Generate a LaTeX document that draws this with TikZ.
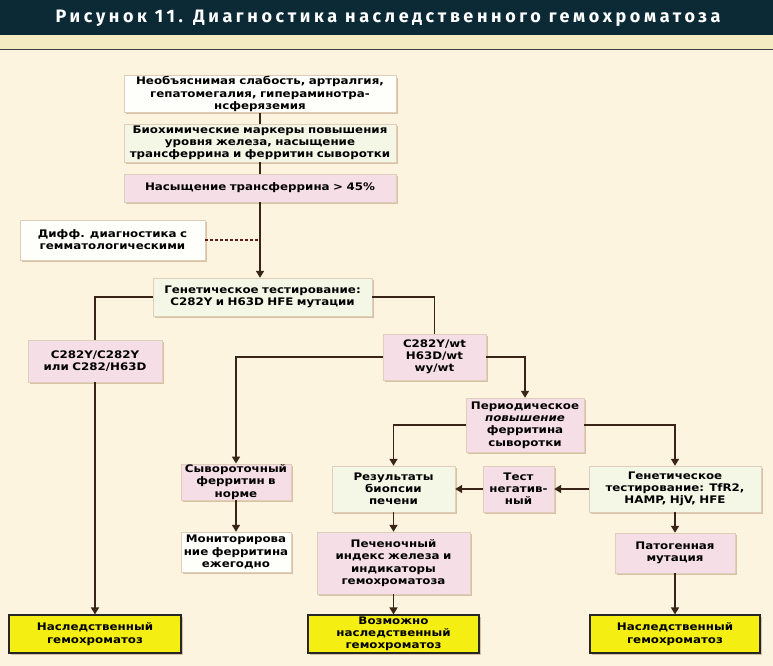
\documentclass[tikz,border=0pt]{standalone}
\usepackage{fontspec}
\setmainfont{DejaVu Sans}[FakeStretch=1.14]
\newfontfamily\titlefont{Fira Sans}[LetterSpace=20]
\usetikzlibrary{arrows.meta,shadows}
\definecolor{barbg}{HTML}{0B2A36}
\definecolor{stripbg}{HTML}{F5EBC2}
\definecolor{pagebg}{HTML}{FCF4DF}
\definecolor{linec}{HTML}{3A2418}
\definecolor{whitebox}{HTML}{FEFEFA}
\definecolor{greenbox}{HTML}{F4F7E6}
\definecolor{pinkbox}{HTML}{F5DEE5}
\definecolor{yellowbox}{HTML}{F4EE12}
\definecolor{shadowc}{HTML}{C9AE8A}
\tikzset{
  box/.style={rectangle, inner sep=1pt, align=center, font=\fontsize{10.4}{12.2}\selectfont\bfseries,
    drop shadow={shadow xshift=2pt, shadow yshift=-2pt, fill=shadowc, opacity=0.7}},
  wbox/.style={box, fill=whitebox, draw=shadowc!60, line width=0.4pt},
  gbox/.style={box, fill=greenbox, draw=shadowc!60, line width=0.4pt},
  pbox/.style={box, fill=pinkbox, draw=shadowc!60, line width=0.4pt},
  ybox/.style={box, fill=yellowbox, draw=black!85, line width=1.2pt},
  conn/.style={draw=linec, line width=1.6pt},
  arr/.style={conn, -{Triangle[width=8pt,length=7pt]}},
  dotconn/.style={draw=linec!80!red, line width=1.2pt, dash pattern=on 2.5pt off 2.5pt}
}
\begin{document}
\begin{tikzpicture}[x=1pt,y=-1pt]
\useasboundingbox (0,0) rectangle (773,666);
\fill[pagebg] (0,0) rectangle (773,666);
\fill[stripbg] (0,35) rectangle (773,49);
\fill[black!75] (0,49) rectangle (773,50.5);
\fill[barbg] (0,0) rectangle (773,35);
\node[text=white, font=\titlefont\bfseries\fontsize{18}{20}\selectfont] (title) at (388,18) {Рисунок 11. Диагностика наследственного гемохроматоза};

\node[wbox, minimum width=272, minimum height=36, text width=268] (n1) at (260,94) {Необъяснимая слабость, артралгия,\\ гепатомегалия, гипераминотра-\\ нсферяземия};
\node[gbox, minimum width=272, minimum height=38, text width=268] (n2) at (260,143) {Биохимические маркеры повышения\\ уровня железа, насыщение\\ трансферрина и ферритин сыворотки};
\node[pbox, minimum width=272, minimum height=28, text width=268] (n3) at (260,188) {Насыщение трансферрина > 45\%};
\node[wbox, minimum width=185, minimum height=40, text width=182] (n4) at (112.5,240) {Дифф. диагностика с\\ гемматологическими};
\node[gbox, minimum width=219, minimum height=38, text width=216] (n5) at (262.5,297) {Генетическое тестирование:\\ C282Y и H63D HFE мутации};
\node[pbox, minimum width=134, minimum height=42, text width=132] (n6) at (95,361) {C282Y/C282Y\\ или C282/H63D};
\node[pbox, minimum width=103, minimum height=46, text width=101] (n7) at (434.5,357) {C282Y/wt\\ H63D/wt\\ wy/wt};
\node[pbox, minimum width=116, minimum height=54, text width=116] (n8) at (525,425) {Периодическое\\ \textit{повышение}\\ ферритина\\ сыворотки};
\node[pbox, minimum width=108, minimum height=36, text width=108] (n9) at (236,482) {Сывороточный\\ ферритин в\\ норме};
\node[wbox, minimum width=108, minimum height=40, text width=108] (n10) at (236,552) {Мониторирова\\ ние ферритина\\ ежегодно};
\node[gbox, minimum width=123, minimum height=46, text width=121] (n11) at (393.5,489) {Результаты\\ биопсии\\ печени};
\node[pbox, minimum width=69, minimum height=46, text width=69] (n12) at (518.5,489) {Тест\\ негатив-\\ ный};
\node[gbox, minimum width=172, minimum height=46, text width=170] (n13) at (675,489) {Генетическое\\ тестирование: TfR2,\\ HAMP, HjV, HFE};
\node[pbox, minimum width=153, minimum height=62, text width=151] (n14) at (393.5,563) {Печеночный\\ индекс железа и\\ индикаторы\\ гемохроматоза};
\node[pbox, minimum width=120, minimum height=40, text width=118] (n15) at (675,553) {Патогенная\\ мутация};
\node[ybox, minimum width=172, minimum height=38, text width=168] (n16) at (95,634) {Наследственный\\ гемохроматоз};
\node[ybox, minimum width=171, minimum height=38, text width=168] (n17) at (393.5,634) {Возможно\\ наследственный\\ гемохроматоз};
\node[ybox, minimum width=170, minimum height=38, text width=166] (n18) at (675,634) {Наследственный\\ гемохроматоз};

\coordinate (dj) at (n3.south |- n4.east);
\draw[conn] (n1.south) -- (n2.north);
\draw[conn] (n2.south) -- (n3.north);
\draw[arr] (n3.south) -- (n3.south |- n5.north);
\draw[dotconn] (n4.east) -- (dj);
\draw[conn] (n5.west) -| (n6.north);
\draw[conn] (n5.east) -| (n7.north);
\draw[arr] (n7.west) -| (n9.north);
\draw[arr] (n7.east) -| (n8.north);
\draw[arr] (n8.west) -| (n11.north);
\draw[arr] (n8.east) -| (n13.north);
\draw[arr] (n13.west) -- (n12.east);
\draw[arr] (n12.west) -- (n11.east);
\draw[arr] (n9.south) -- (n10.north);
\draw[arr] (n11.south) -- (n14.north);
\draw[arr] (n13.south) -- (n15.north);
\draw[arr] (n6.south) -- (n16.north);
\draw[arr] (n14.south) -- (n17.north);
\draw[arr] (n15.south) -- (n18.north);
\end{tikzpicture}
\end{document}
